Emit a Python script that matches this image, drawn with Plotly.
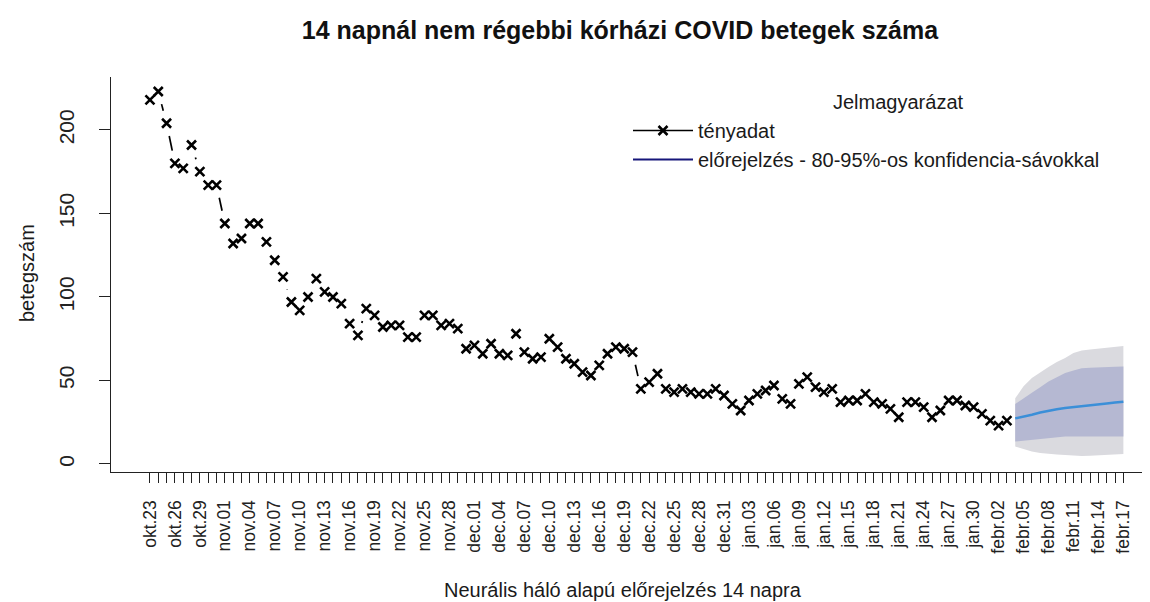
import math
import pandas as pd
import plotly.graph_objects as go

# ---------------- data ----------------
start_date = "2020-10-23"
actual = [218, 223, 204, 180, 177, 191, 175, 167, 167, 144,
          132, 135, 144, 144, 133, 122, 112, 97, 92, 100,
          111, 103, 100, 96, 84, 77, 93, 89, 82, 83,
          83, 76, 76, 89, 89, 83, 84, 81, 69, 71,
          66, 72, 66, 65, 78, 67, 63, 64, 75, 70,
          63, 60, 55, 53, 59, 66, 70, 69, 67, 45,
          49, 54, 45, 43, 45, 43, 42, 42, 45, 41,
          36, 32, 38, 42, 44, 47, 39, 36, 48, 52,
          46, 43, 45, 37, 38, 38, 42, 37, 36, 33,
          28, 37, 37, 34, 28, 32, 38, 38, 35, 34,
          30, 26, 23, 26]
forecast_mean = [27.3, 28.3, 29.5, 30.8, 32.0, 32.8, 33.5, 34.0, 34.3, 34.8, 35.5, 36.2, 36.8, 37.3]
lo80 = [13.4, 13.9, 14.4, 14.9, 15.4, 15.9, 16.4, 16.4, 16.4, 16.4, 16.4, 16.4, 16.4, 16.4]
hi80 = [35.9, 39.5, 42.7, 46.0, 49.4, 52.0, 54.4, 56.0, 57.3, 57.6, 57.9, 58.0, 58.2, 58.3]
lo95 = [10.4, 8.8, 7.4, 6.6, 6.0, 5.7, 5.4, 5.1, 4.8, 5.0, 5.3, 5.6, 5.8, 6.0]
hi95 = [39.3, 46.5, 51.5, 55.0, 58.0, 61.0, 63.5, 66.5, 68.0, 68.5, 69.0, 69.3, 70.0, 70.7]
y_ticks = [0, 50, 100, 150, 200]
tick_labels = ["okt.23", "okt.26", "okt.29", "nov.01", "nov.04", "nov.07", "nov.10",
               "nov.13", "nov.16", "nov.19", "nov.22", "nov.25", "nov.28", "dec.01",
               "dec.04", "dec.07", "dec.10", "dec.13", "dec.16", "dec.19", "dec.22",
               "dec.25", "dec.28", "dec.31", "jan.03", "jan.06", "jan.09", "jan.12",
               "jan.15", "jan.18", "jan.21", "jan.24", "jan.27", "jan.30", "febr.02",
               "febr.05", "febr.08", "febr.11", "febr.14", "febr.17"]

title_text = "14 napnál nem régebbi kórházi COVID betegek száma"
x_title = "Neurális háló alapú előrejelzés 14 napra"
y_title = "betegszám"
legend_title = "Jelmagyarázat"
name_actual = "tényadat"
name_fc = "előrejelzés - 80-95%-os konfidencia-sávokkal"

# ---------------- geometry / style ----------------
OFF = 8                      # default page margin of the html body
W, H = 1150 - OFF, 602 - OFF
ML, MR, MT, MB = 111 - OFF, 0, 77 - OFF, H - (472 - OFF)
PW, PH = W - ML - MR, H - MT - MB
FONT = "Liberation Sans, Arial, sans-serif"


def px_x(ref_x):   # reference-pixel -> paper x
    return (ref_x - OFF - ML) / PW


def px_y(ref_y):   # reference-pixel -> paper y
    return (H - MB - (ref_y - OFF)) / PH


start = pd.Timestamp(start_date)
n_act = len(actual)
n_fc = len(forecast_mean)
all_dates = pd.date_range(start, periods=n_act + n_fc, freq="D")
act_dates = all_dates[:n_act]
fc_dates = all_dates[n_act:]
tick_dates = all_dates[::3]

x_lo_day, x_hi_day = -4.68, 120.2
y_lo, y_hi = -4.8, 231.7


def day_to_ts(d):
    return start + pd.Timedelta(days=d)


# gapped connecting segments (R type="b" look), computed from the data
sx = PW / (x_hi_day - x_lo_day)
sy = PH / (y_hi - y_lo)
gap = 13.0
seg_x, seg_y = [], []
for i in range(n_act - 1):
    dv = actual[i + 1] - actual[i]
    dist = math.hypot(sx, sy * dv)
    if dist > 2 * gap:
        t = gap / dist
        seg_x += [day_to_ts(i + t), day_to_ts(i + 1 - t), None]
        seg_y += [actual[i] + t * dv, actual[i + 1] - t * dv, None]

fig = go.Figure()

# 95% band
fig.add_trace(go.Scatter(x=fc_dates, y=lo95, mode="lines", line=dict(width=0),
                         showlegend=False, hoverinfo="skip"))
fig.add_trace(go.Scatter(x=fc_dates, y=hi95, mode="lines", line=dict(width=0),
                         fill="tonexty", fillcolor="#dadadf", showlegend=False, hoverinfo="skip"))
# 80% band
fig.add_trace(go.Scatter(x=fc_dates, y=lo80, mode="lines", line=dict(width=0),
                         showlegend=False, hoverinfo="skip"))
fig.add_trace(go.Scatter(x=fc_dates, y=hi80, mode="lines", line=dict(width=0),
                         fill="tonexty", fillcolor="#b5b8d2", showlegend=False, hoverinfo="skip"))
# forecast mean
fig.add_trace(go.Scatter(x=fc_dates, y=forecast_mean, mode="lines",
                         line=dict(color="#3b8fd8", width=2.5), showlegend=False))

# connecting segments
fig.add_trace(go.Scatter(x=seg_x, y=seg_y, mode="lines",
                         line=dict(color="black", width=1.7), showlegend=False, hoverinfo="skip"))
# actual markers
fig.add_trace(go.Scatter(x=act_dates, y=actual, mode="markers",
                         marker=dict(symbol="x-thin", size=9, color="black",
                                     line=dict(color="black", width=2.6)),
                         showlegend=False))

# legend entries
fig.add_trace(go.Scatter(x=[None], y=[None], mode="lines+markers", name=name_actual,
                         line=dict(color="black", width=1.7),
                         marker=dict(symbol="x-thin", size=9, color="black",
                                     line=dict(color="black", width=2.6))))
fig.add_trace(go.Scatter(x=[None], y=[None], mode="lines", name=name_fc,
                         line=dict(color="#16167a", width=2)))

fig.update_layout(
    width=W, height=H,
    margin=dict(l=ML, r=MR, t=MT, b=MB, pad=0, autoexpand=False),
    paper_bgcolor="white", plot_bgcolor="white",
    font=dict(family=FONT, color="#1a1a1a", size=20),
    title=dict(text="<b>" + title_text + "</b>", x=(620 - OFF) / W, xanchor="center",
               y=1 - (30 - OFF) / H, yanchor="middle", yref="container",
               font=dict(size=25, family=FONT, color="#111")),
    showlegend=True,
    legend=dict(x=px_x(628), y=px_y(111), xanchor="left", yanchor="top",
                bgcolor="rgba(0,0,0,0)", borderwidth=0, traceorder="normal",
                font=dict(size=20, family=FONT, color="#1a1a1a"),
                itemwidth=60, tracegroupgap=0),
    xaxis=dict(
        type="date", automargin=False,
        range=[day_to_ts(x_lo_day), day_to_ts(x_hi_day)],
        showgrid=False, zeroline=False,
        showline=True, linecolor="#222", linewidth=1.3,
        ticks="outside", ticklen=10, tickwidth=1.2, tickcolor="#222",
        tickmode="array", tickvals=tick_dates, ticktext=tick_labels,
        tickangle=-90, tickfont=dict(size=17.5, family=FONT, color="#222"),
        ticklabelstandoff=10,
        minor=dict(tickmode="array", tickvals=all_dates, ticks="outside",
                   ticklen=10, tickwidth=1.2, tickcolor="#222", showgrid=False),
    ),
    yaxis=dict(
        automargin=False,
        range=[y_lo, y_hi],
        showgrid=False, zeroline=False,
        showline=True, linecolor="#222", linewidth=1.3,
        ticks="outside", ticklen=11, tickwidth=1.2, tickcolor="#222",
        tickmode="array", tickvals=y_ticks,
        tickangle=-90, tickfont=dict(size=21, family=FONT, color="#222"),
        ticklabelstandoff=16,
    ),
    annotations=[
        dict(text=legend_title, xref="paper", yref="paper",
             x=px_x(898), y=px_y(102), xanchor="center", yanchor="middle",
             showarrow=False, font=dict(size=20, family=FONT, color="#1a1a1a")),
        dict(text=x_title, xref="paper", yref="paper",
             x=px_x(623), y=px_y(590), xanchor="center", yanchor="middle",
             showarrow=False, font=dict(size=20, family=FONT, color="#1a1a1a")),
        dict(text=y_title, xref="paper", yref="paper",
             x=px_x(27), y=px_y(273), xanchor="center", yanchor="middle",
             showarrow=False, textangle=-90,
             font=dict(size=20, family=FONT, color="#1a1a1a")),
    ],
)

fig.write_html("out.html")
